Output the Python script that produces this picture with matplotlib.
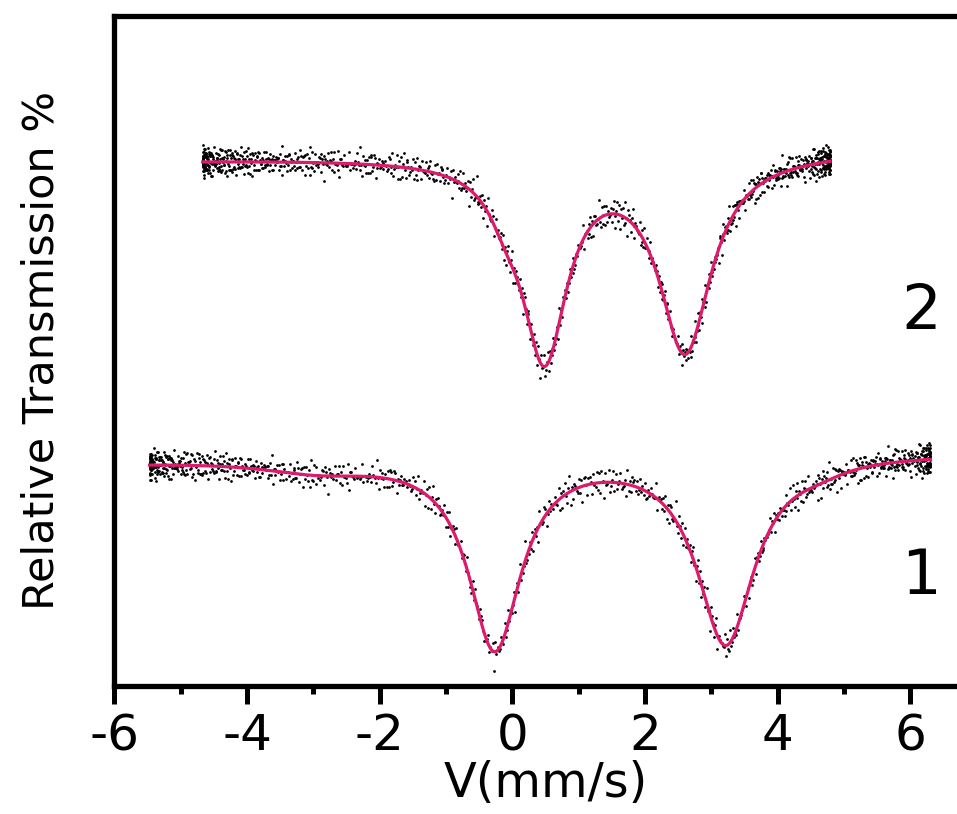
import numpy as np
import matplotlib
matplotlib.use("Agg")
import matplotlib.pyplot as plt

plt.rcParams['font.family'] = 'DejaVu Sans'
plt.rcParams['axes.unicode_minus'] = False

# velocity channels: sinusoidal drive, 1024 channels per spectrum
n_channels = 1024
drive_center = [0.415, 0.06]      # mm/s
drive_amplitude = [5.885, 4.73]   # mm/s

# sample 1: baseline (c0, c1, c2) and Lorentzian lines (centre, hwhm, depth) in %
s1_baseline = [100.187, 0.0212, -0.0031]
s1_center = [-0.267, 3.214, -2.929, 4.620]
s1_hwhm = [0.483, 0.529, 1.083, 0.535]
s1_depth = [4.822, 4.737, 0.301, 0.190]

# sample 2
s2_baseline = [100.120, 0.0245, 0.0]
s2_center = [0.483, 2.602, -0.106]
s2_hwhm = [0.416, 0.480, 0.306]
s2_depth = [4.926, 4.859, 0.621]
s2_offset = 7.5   # vertical shift for stacking

# counting scatter (in units of sigma), typed-in residual tables
res_a = [0.3, -1.2, 0.8, 1.5, -0.4, -2.1, 0.1, 0.9, -0.7, 1.9, -1.5, 0.5, -0.2, 1.1, -0.9, 2.3,
         -0.6, 0.0, -1.8, 0.7, 1.3, -0.3, -1.0, 0.4, 1.7, -2.4, 0.6, -0.5, 0.2, 1.0, -1.3, -0.1,
         0.9, -0.8, 1.4, -1.6, 0.3, 2.0, -0.4, -1.1, 0.6, -0.2, 1.2, -1.9, 0.8, -0.6, 0.1, 1.6,
         -1.4, 0.5, -0.9, 2.6, -0.3, -1.7, 1.0, 0.2, -0.7, 1.3, -2.0, 0.4, -0.1, 0.7, -1.2, 1.8]
res_b = [-0.5, 1.4, 0.2, -1.1, 0.9, -0.3, 1.8, -1.6, 0.0, 0.6, -2.0, 1.1, -0.8, 0.4, 1.5, -0.2,
         -1.3, 0.7, 2.1, -0.9, 0.3, -1.7, 1.0, -0.4, 0.8, -1.0, 1.2, -0.6, 0.1, -2.2, 1.6, -0.1,
         0.5, -1.4, 0.9, 1.9, -0.7]
sigma = 0.15

xticks = [-6, -4, -2, 0, 2, 4, 6]
labels = ['1', '2']


def transmission(v, base, centers, widths, depths):
    t = base[0] + base[1] * v + base[2] * v ** 2
    for c, w, d in zip(centers, widths, depths):
        t = t - d / (1 + ((v - c) / w) ** 2)
    return t


def channels(k):
    phase = np.linspace(-np.pi / 2, np.pi / 2, n_channels)
    return drive_center[k] + drive_amplitude[k] * np.sin(phase)


def scatter_noise(shift):
    idx = np.arange(n_channels) + shift
    a = np.array(res_a)[idx % len(res_a)]
    b = np.array(res_b)[idx % len(res_b)]
    return (a + b) / np.sqrt(2) * sigma


fig = plt.figure(figsize=(9.57, 8.14), dpi=100)
ax = fig.add_axes([0.1196, 0.1572, 0.9011, 0.8237])

line_color = '#DE1A6C'

spectra = [
    (s1_baseline, s1_center, s1_hwhm, s1_depth, 0.0, 0),
    (s2_baseline, s2_center, s2_hwhm, s2_depth, s2_offset, 29),
]
for k, (base, cen, wid, dep, off, shift) in enumerate(spectra):
    v = channels(k)
    fit = transmission(v, base, cen, wid, dep) + off
    counts = fit + scatter_noise(shift)
    ax.scatter(v, counts, s=4, color='black', linewidths=0, zorder=2)
    vv = np.linspace(v.min(), v.max(), 800)
    ax.plot(vv, transmission(vv, base, cen, wid, dep) + off, color=line_color, lw=2.3, zorder=3)

ax.text(6.16, 96.65, labels[0], fontsize=45, ha='center', va='baseline')
ax.text(6.16, 103.28, labels[1], fontsize=45, ha='center', va='baseline')

ax.set_xlim(-6, 7)
ax.set_ylim(94.35, 111.11)
ax.set_xticks(xticks)
ax.set_xticks(np.arange(-5, 7, 2), minor=True)
ax.set_yticks([])
ax.tick_params(axis='x', which='major', direction='out', length=13, width=3.6, labelsize=36, pad=6)
ax.tick_params(axis='x', which='minor', direction='out', length=5.8, width=3.6)
for side in ['top', 'left', 'bottom']:
    ax.spines[side].set_linewidth(3.8)
ax.spines['right'].set_visible(False)

ax.set_xlabel('V(mm/s)', fontsize=34.5, labelpad=0)
ax.set_ylabel('Relative Transmission %', fontsize=31)
ax.yaxis.set_label_coords(-0.06, 0.5)

fig.savefig('out.png', dpi=100)
